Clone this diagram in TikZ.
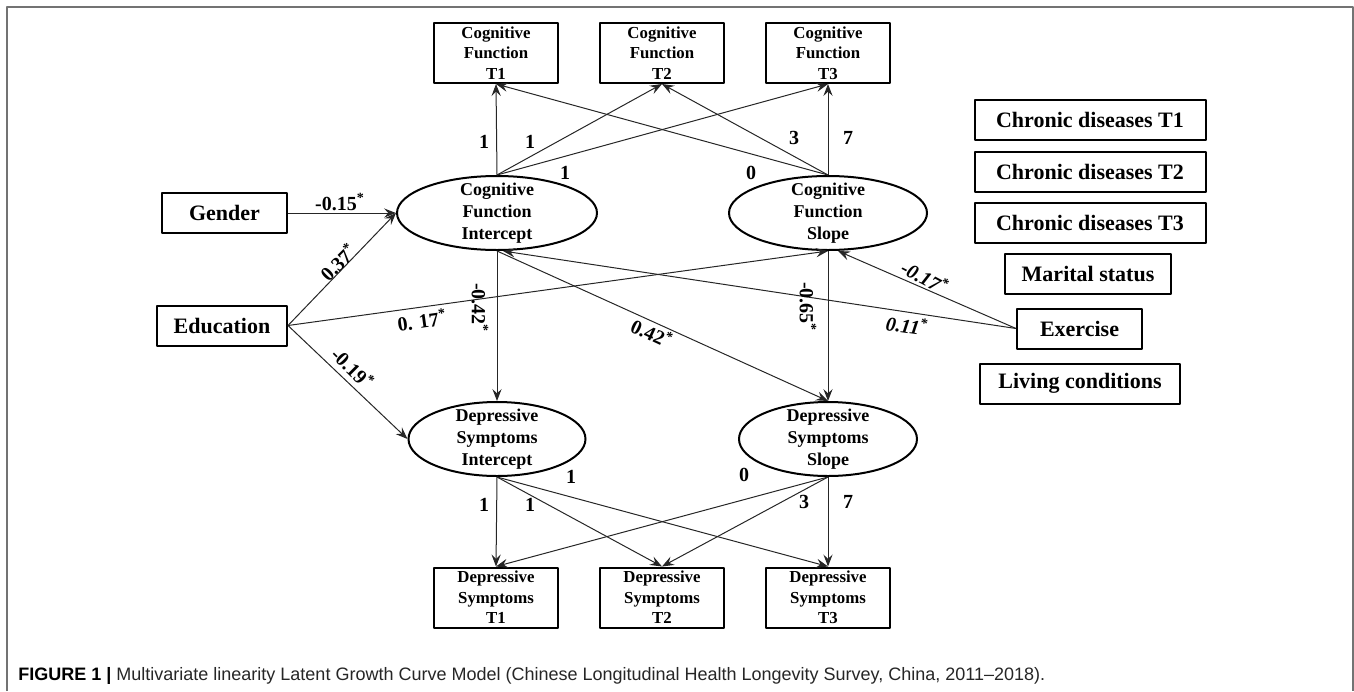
\documentclass[tikz,border=0pt]{standalone}
\usepackage{fontspec}
\setmainfont{Liberation Serif}
\setsansfont{Liberation Sans}
\usetikzlibrary{shapes.geometric,arrows.meta}
\begin{document}
\begin{tikzpicture}[x=0.5pt, y=-0.5pt, line join=round, >={Stealth[length=6pt,width=4.6pt,inset=2.2pt]},
    obs/.style={draw, line width=1pt, inner sep=0pt, align=center, minimum width=62pt, minimum height=30pt, font=\bfseries\fontsize{8.4}{10.2}\selectfont},
    cov/.style={draw, line width=1pt, inner sep=0pt, minimum height=20pt, font=\bfseries\fontsize{11}{13}\selectfont},
    latent/.style={ellipse, draw, line width=1pt, inner sep=-9pt, align=center, minimum height=37pt, font=\bfseries\fontsize{9}{11}\selectfont},
    arr/.style={->, line width=0.5pt, black!85},
    coef/.style={inner sep=1pt, font=\bfseries\fontsize{10}{12}\selectfont}]
    \useasboundingbox (0,0) rectangle (1354,691);
    % frame
    \draw[black!55, line width=0.8pt] (7,691) -- (7,7) -- (1353,7) -- (1353,691);
    % observed cognitive function
    \node[obs] (cft1) at (496,53) {Cognitive\\Function\\T1};
    \node[obs] (cft2) at (662,53) {Cognitive\\Function\\T2};
    \node[obs] (cft3) at (828,53) {Cognitive\\Function\\T3};
    % growth factors
    \node[latent, minimum width=100pt] (cfi) at (497,213) {Cognitive\\Function\\Intercept};
    \node[latent, minimum width=99pt] (cfs) at (828,213) {Cognitive\\Function\\Slope};
    \node[latent, minimum width=88.5pt] (dsi) at (497,439) {Depressive\\Symptoms\\Intercept};
    \node[latent, minimum width=89pt] (dss) at (828,439) {Depressive\\Symptoms\\Slope};
    % observed depressive symptoms
    \node[obs] (dst1) at (496,597.5) {Depressive\\Symptoms\\T1};
    \node[obs] (dst2) at (662,597.5) {Depressive\\Symptoms\\T2};
    \node[obs] (dst3) at (828,597.5) {Depressive\\Symptoms\\T3};
    % covariates
    \node[cov, minimum width=62.5pt] (gender) at (224.5,213) {Gender};
    \node[cov, minimum width=65pt] (edu) at (222,325.5) {Education};
    \node[cov, minimum width=115.5pt] (cd1) at (1090,120) {Chronic diseases T1};
    \node[cov, minimum width=115.5pt] (cd2) at (1090,172) {Chronic diseases T2};
    \node[cov, minimum width=115.5pt] (cd3) at (1090,222.5) {Chronic diseases T3};
    \node[cov, minimum width=83pt] (marital) at (1088,273.5) {Marital status};
    \node[cov, minimum width=62.5pt] (exercise) at (1079.5,328.5) {Exercise};
    \node[cov, minimum width=100pt] (living) at (1080,383.5) {Living conditions};
    % loadings, cognitive function
    \draw[arr] (cfi.north) -- (cft1.south);
    \draw[arr] (cfi.north) -- (cft2.south);
    \draw[arr] (cfi.north) -- (cft3.south);
    \draw[arr] (cfs.north) -- (cft1.south);
    \draw[arr] (cfs.north) -- (cft2.south);
    \draw[arr] (cfs.north) -- (cft3.south);
    \node[coef] (lci1) at (484,142) {1};
    \node[coef] (lci2) at (530,142) {1};
    \node[coef] (lci3) at (565,173) {1};
    \node[coef] (lcs1) at (751,173) {0};
    \node[coef] (lcs2) at (794,138) {3};
    \node[coef] (lcs3) at (848,138) {7};
    % loadings, depressive symptoms
    \draw[arr] (dsi.south) -- (dst1.north);
    \draw[arr] (dsi.south) -- (dst2.north);
    \draw[arr] (dsi.south) -- (dst3.north);
    \draw[arr] (dss.south) -- (dst1.north);
    \draw[arr] (dss.south) -- (dst2.north);
    \draw[arr] (dss.south) -- (dst3.north);
    \node[coef] (ldi1) at (484,505) {1};
    \node[coef] (ldi2) at (530,505) {1};
    \node[coef] (ldi3) at (571,477) {1};
    \node[coef] (lds1) at (744,475) {0};
    \node[coef] (lds2) at (804,502) {3};
    \node[coef] (lds3) at (848,502) {7};
    % covariate paths
    \draw[arr] (gender.east) -- (cfi.west);
    \draw[arr] (edu.east) -- (cfi.west);
    \draw[arr] (edu.east) -- (cfs.south);
    \draw[arr] (edu.east) -- (dsi.west);
    \draw[arr] (exercise.west) -- ([xshift=5pt]cfs.south);
    \draw[arr] (exercise.west) -- ([xshift=3pt]cfi.south);
    \node[coef] (kgen) at (340,202) {-0.15\textsuperscript{*}};
    \node[coef, rotate=45] (kedu1) at (338,262) {0.37\textsuperscript{*}};
    \node[coef, rotate=8] (kedu2) at (422,320) {0. 17\textsuperscript{*}};
    \node[coef, rotate=-45] (kedu3) at (353,368) {-0.19\textsuperscript{*}};
    \node[coef, rotate=-28, font=\bfseries\itshape\fontsize{10}{12}\selectfont] (kex1) at (925,277) {-0.17\textsuperscript{*}};
    \node[coef, rotate=-8, font=\bfseries\itshape\fontsize{10}{12}\selectfont] (kex2) at (907,325) {0.11\textsuperscript{*}};
    % cross-domain paths
    \draw[arr] (cfi.south) -- (dsi.north);
    \draw[arr] (cfi.south) -- (dss.north);
    \draw[arr] (cfs.south) -- (dss.north);
    \node[coef, rotate=-90] (kii) at (480,308) {-0.42\textsuperscript{*}};
    \node[coef, rotate=-25] (kis) at (652,333) {0.42\textsuperscript{*}};
    \node[coef, rotate=-90] (kss) at (808,307) {-0.65\textsuperscript{*}};
    % caption
    \node[anchor=base west, inner sep=0pt, text=black!85, font=\sffamily\fontsize{9}{11}\selectfont] (caption) at (18,680) {\textcolor{black}{\textbf{FIGURE 1 |}} Multivariate linearity Latent Growth Curve Model (Chinese Longitudinal Health Longevity Survey, China, 2011–2018).};
\end{tikzpicture}
\end{document}
